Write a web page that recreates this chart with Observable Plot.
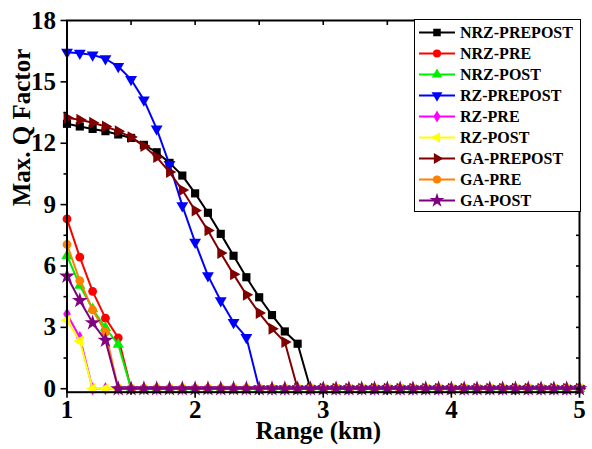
<!DOCTYPE html>
<html><head><meta charset="utf-8">
<script src="https://cdn.jsdelivr.net/npm/d3@7"></script>
<script src="https://cdn.jsdelivr.net/npm/@observablehq/plot@0.6"></script>
<style>
html,body{margin:0;padding:0;background:#fff;}
#wrap{position:relative;width:592px;height:449px;font-family:"Times New Roman","Liberation Serif",serif;}
#wrap svg g[aria-label="x-axis tick label"], #wrap svg g[aria-label="y-axis tick label"]{font-size:25px;font-weight:bold;}
#legend{position:absolute;left:414px;top:19px;width:167px;height:193px;border:1.5px solid #000;background:#fff;box-sizing:border-box;padding-top:2px;}
.row{display:flex;align-items:center;height:21px;}
.row svg{display:block;margin-left:3px;}
.row span{font-weight:bold;font-size:16px;margin-left:4px;white-space:nowrap;color:#000;}
</style></head><body><div id="wrap"></div>
<script>
// ---- data ----
const range = [1.0,1.1,1.2,1.3,1.4,1.5,1.6,1.7,1.8,1.9,2.0,2.1,2.2,2.3,2.4,2.5,2.6,2.7,2.8,2.9,3.0,3.1,3.2,3.3,3.4,3.5,3.6,3.7,3.8,3.9,4.0,4.1,4.2,4.3,4.4,4.5,4.6,4.7,4.8,4.9,5.0];
const seriesNames = ["NRZ-PREPOST","NRZ-PRE","NRZ-POST","RZ-PREPOST","RZ-PRE","RZ-POST","GA-PREPOST","GA-PRE","GA-POST"];
const nrzPrepost = [12.95,12.82,12.70,12.59,12.43,12.26,11.92,11.56,11.04,10.42,9.55,8.60,7.57,6.50,5.45,4.47,3.60,2.80,2.20,0,0,0,0,0,0,0,0,0,0,0,0,0,0,0,0,0,0,0,0,0,0];
const nrzPre     = [8.30,6.43,4.76,3.45,2.49,0,0,0,0,0,0,0,0,0,0,0,0,0,0,0,0,0,0,0,0,0,0,0,0,0,0,0,0,0,0,0,0,0,0,0,0];
const nrzPost    = [6.50,5.05,3.90,2.98,2.16,0,0,0,0,0,0,0,0,0,0,0,0,0,0,0,0,0,0,0,0,0,0,0,0,0,0,0,0,0,0,0,0,0,0,0,0];
const rzPrepost  = [16.45,16.40,16.32,16.13,15.75,15.12,14.12,12.70,10.96,8.95,7.16,5.53,4.30,3.24,2.51,0,0,0,0,0,0,0,0,0,0,0,0,0,0,0,0,0,0,0,0,0,0,0,0,0,0];
const rzPre      = [3.65,2.50,0,0,0,0,0,0,0,0,0,0,0,0,0,0,0,0,0,0,0,0,0,0,0,0,0,0,0,0,0,0,0,0,0,0,0,0,0,0,0];
const rzPost     = [3.35,2.33,0,0,0,0,0,0,0,0,0,0,0,0,0,0,0,0,0,0,0,0,0,0,0,0,0,0,0,0,0,0,0,0,0,0,0,0,0,0,0];
const gaPrepost  = [13.24,13.15,13.00,12.82,12.59,12.30,11.86,11.32,10.59,9.71,8.71,7.74,6.63,5.59,4.59,3.70,2.93,2.28,0,0,0,0,0,0,0,0,0,0,0,0,0,0,0,0,0,0,0,0,0,0,0];
const gaPre      = [7.05,5.28,3.85,2.77,0,0,0,0,0,0,0,0,0,0,0,0,0,0,0,0,0,0,0,0,0,0,0,0,0,0,0,0,0,0,0,0,0,0,0,0,0];
const gaPost     = [5.50,4.31,3.22,2.37,0,0,0,0,0,0,0,0,0,0,0,0,0,0,0,0,0,0,0,0,0,0,0,0,0,0,0,0,0,0,0,0,0,0,0,0,0];
const xTicks = [1,2,3,4,5];
const xMinor = [1.5,2.5,3.5,4.5];
const yTicks = [0,3,6,9,12,15,18];
const yMinor = [1.5,4.5,7.5,10.5,13.5,16.5];

// ---- styles ----
const seriesValues = [nrzPrepost,nrzPre,nrzPost,rzPrepost,rzPre,rzPost,gaPrepost,gaPre,gaPost];
const colors  = ["#000000","#ff0000","#00ee00","#0000ff","#ff00ff","#ffff00","#800000","#ff8000","#800080"];
const symbols = ["square","circle","triangle","triangle","diamond","triangle","triangle","circle","star"];
const d3syms  = [d3.symbolSquare,d3.symbolCircle,d3.symbolTriangle,d3.symbolTriangle,d3.symbolDiamond,d3.symbolTriangle,d3.symbolTriangle,d3.symbolCircle,d3.symbolStar];
const rotates = [0,0,0,180,0,-90,90,0,0];
const radii   = [4.6,4.4,4.2,4.4,4.0,4.2,4.4,4.4,5.0];

const marks = [];
seriesNames.forEach((name,i)=>{
  const data = range.map((r,j)=>({range:r, q:seriesValues[i][j]}));
  marks.push(Plot.line(data,{x:"range",y:"q",stroke:colors[i],strokeWidth:2}));
  marks.push(Plot.dot(data,{x:"range",y:"q",symbol:symbols[i],rotate:rotates[i],fill:colors[i],stroke:"none",r:radii[i]}));
});

const font = {fontFamily:"'Times New Roman','Liberation Serif',serif",fontWeight:"bold"};
const allTopTicks = d3.range(0,9).map(i=>1+i*0.5);
const allRightTicks = d3.range(0,13).map(i=>i*1.5);

const chart = Plot.plot({
  width:592, height:449,
  marginLeft:66.5, marginRight:13, marginTop:20, marginBottom:57.3,
  x:{domain:[1,5]},
  y:{domain:[-0.17,18]},
  style:{background:"#fff",color:"#000",fontFamily:"'Times New Roman','Liberation Serif',serif"},
  marks:[
    ...marks,
    Plot.frame({stroke:"#000",strokeWidth:2}),
    Plot.axisX({anchor:"bottom",ticks:xTicks,tickSize:6,tickPadding:2,tickFormat:d=>String(d),fontSize:25,...font,strokeWidth:1.6,label:null}),
    Plot.axisX({anchor:"bottom",ticks:xMinor,tickSize:3,text:null,strokeWidth:1.6,label:null}),
    Plot.axisX({anchor:"top",ticks:allTopTicks,tickSize:-4,text:null,strokeWidth:1.6,label:null}),
    Plot.axisY({anchor:"left",ticks:yTicks,tickSize:6,tickPadding:5,tickFormat:d=>String(d),fontSize:25,...font,strokeWidth:1.6,label:null}),
    Plot.axisY({anchor:"left",ticks:yMinor,tickSize:3,text:null,strokeWidth:1.6,label:null}),
    Plot.axisY({anchor:"right",ticks:allRightTicks,tickSize:-4,text:null,strokeWidth:1.6,label:null}),
    Plot.text(["Range (km)"],{frameAnchor:"bottom",dx:-5,dy:47,text:d=>d,fontSize:25,...font}),
    Plot.text(["Max. Q Factor"],{frameAnchor:"left",dx:-45,rotate:-90,text:d=>d,fontSize:25,...font})
  ]
});
const wrap = document.getElementById("wrap");
wrap.appendChild(chart);

// legend
const legend = document.createElement("div");
legend.id = "legend";
seriesNames.forEach((name,i)=>{
  const row = document.createElement("div");
  row.className = "row";
  const svg = d3.create("svg").attr("width",38).attr("height",21);
  svg.append("line").attr("x1",1).attr("x2",37).attr("y1",10.5).attr("y2",10.5).attr("stroke",colors[i]).attr("stroke-width",2);
  svg.append("path").attr("d",d3.symbol(d3syms[i],Math.PI*radii[i]*radii[i]*0.85)())
     .attr("transform",`translate(19,10.5) rotate(${rotates[i]})`).attr("fill",colors[i]);
  row.appendChild(svg.node());
  const sp = document.createElement("span");
  sp.textContent = name;
  row.appendChild(sp);
  legend.appendChild(row);
});
wrap.appendChild(legend);
</script></body></html>
